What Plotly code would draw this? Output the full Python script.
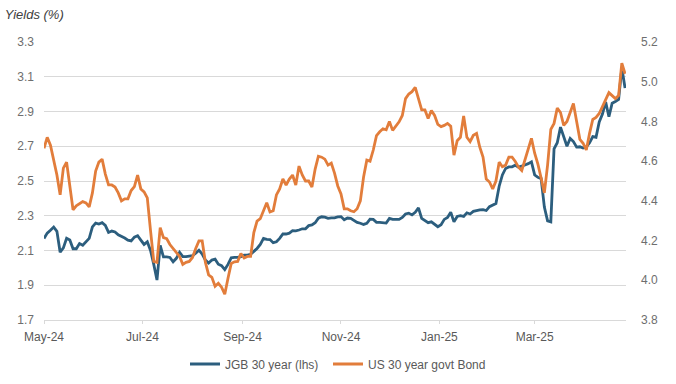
import pandas as pd
import plotly.graph_objects as go

# ---- data ----
start_date = "2024-05-01"
n_points = 181  # one observation every 2 days

jgb_30y = [
    2.169, 2.20, 2.217, 2.235, 2.21, 2.09, 2.115, 2.17, 2.16, 2.11,
    2.11, 2.14, 2.13, 2.152, 2.17, 2.236, 2.258, 2.252, 2.26, 2.245,
    2.204, 2.212, 2.207, 2.19, 2.183, 2.172, 2.16, 2.155, 2.177, 2.185,
    2.16, 2.135, 2.15, 2.10, 2.02, 1.93, 2.13, 2.063, 2.063, 2.06,
    2.035, 2.055, 2.09, 2.065, 2.065, 2.067, 2.07, 2.085, 2.102, 2.08,
    2.045, 2.028, 2.045, 2.05, 2.021, 2.013, 1.99, 2.02, 2.058, 2.06,
    2.06, 2.065, 2.073, 2.073, 2.078, 2.095, 2.112, 2.135, 2.17, 2.164,
    2.163, 2.145, 2.15, 2.17, 2.196, 2.195, 2.20, 2.214, 2.213, 2.218,
    2.225, 2.225, 2.243, 2.247, 2.26, 2.286, 2.294, 2.292, 2.285, 2.288,
    2.288, 2.293, 2.295, 2.277, 2.287, 2.285, 2.272, 2.262, 2.257, 2.25,
    2.256, 2.28, 2.279, 2.262, 2.262, 2.259, 2.258, 2.285, 2.279, 2.279,
    2.279, 2.29, 2.31, 2.315, 2.305, 2.32, 2.345, 2.285, 2.272, 2.26,
    2.265, 2.25, 2.237, 2.248, 2.279, 2.29, 2.32, 2.265, 2.296, 2.30,
    2.296, 2.317, 2.31, 2.325, 2.33, 2.334, 2.335, 2.33, 2.352, 2.36,
    2.37, 2.47, 2.535, 2.572, 2.581, 2.582, 2.591, 2.58, 2.585, 2.592,
    2.60, 2.61, 2.535, 2.521, 2.514, 2.35, 2.271, 2.265, 2.685, 2.72,
    2.81, 2.76, 2.70, 2.745, 2.727, 2.695, 2.697, 2.69, 2.695, 2.72,
    2.756, 2.752, 2.84, 2.885, 2.955, 2.87, 2.948, 2.958, 2.97, 3.15,
    3.035,
]

us_30y = [
    4.665, 4.72, 4.68, 4.60, 4.53, 4.43, 4.565, 4.595, 4.48, 4.355,
    4.375, 4.385, 4.396, 4.39, 4.37, 4.44, 4.55, 4.595, 4.61, 4.535,
    4.48, 4.48, 4.47, 4.44, 4.40, 4.41, 4.41, 4.452, 4.472, 4.53,
    4.46, 4.445, 4.415, 4.25, 4.095, 4.09, 4.265, 4.215, 4.21, 4.18,
    4.16, 4.14, 4.12, 4.08, 4.09, 4.095, 4.115, 4.16, 4.198, 4.198,
    4.09, 4.027, 4.015, 3.97, 3.985, 3.965, 3.93, 4.01, 4.085, 4.093,
    4.095, 4.135, 4.112, 4.12, 4.12, 4.24, 4.298, 4.31, 4.355, 4.39,
    4.344, 4.35, 4.43, 4.46, 4.51, 4.48, 4.51, 4.53, 4.48, 4.575,
    4.53, 4.50, 4.50, 4.47, 4.56, 4.625, 4.62, 4.61, 4.58, 4.59,
    4.54, 4.475, 4.435, 4.36, 4.36, 4.35, 4.345, 4.36, 4.40, 4.52,
    4.605, 4.60, 4.656, 4.728, 4.748, 4.763, 4.758, 4.80, 4.755, 4.774,
    4.798, 4.83, 4.915, 4.938, 4.95, 4.972, 4.92, 4.858, 4.858, 4.815,
    4.855, 4.83, 4.785, 4.774, 4.78, 4.79, 4.776, 4.63, 4.703, 4.72,
    4.828, 4.72, 4.698, 4.73, 4.74, 4.67, 4.62, 4.51, 4.495, 4.46,
    4.50, 4.595, 4.572, 4.58, 4.62, 4.62, 4.598, 4.57, 4.553, 4.61,
    4.663, 4.715, 4.64, 4.585, 4.515, 4.44, 4.58, 4.76, 4.79, 4.867,
    4.845, 4.78, 4.80, 4.84, 4.89, 4.80, 4.71, 4.69, 4.656, 4.74,
    4.81, 4.82, 4.84, 4.875, 4.912, 4.945, 4.93, 4.915, 4.93, 5.094,
    5.04,
]

left_ticks = [1.7, 1.9, 2.1, 2.3, 2.5, 2.7, 2.9, 3.1, 3.3]
right_ticks = [3.8, 4.0, 4.2, 4.4, 4.6, 4.8, 5.0, 5.2]
series_names = ["JGB 30 year (lhs)", "US 30 year govt Bond"]
axis_title = "Yields (%)"

dates = pd.date_range(start_date, periods=n_points, freq="2D")

BLUE = "#2C5E7E"
ORANGE = "#E27D3B"
GRID = "#D9D9D9"
SANS = "Liberation Sans, Arial, sans-serif"
LEG_FONT = dict(family=SANS, size=12, color="#595959")

fig = go.Figure()
fig.add_trace(go.Scatter(x=dates, y=jgb_30y, name=series_names[0], mode="lines",
                         line=dict(color=BLUE, width=2.8), yaxis="y", legend="legend"))
fig.add_trace(go.Scatter(x=dates, y=us_30y, name=series_names[1], mode="lines",
                         line=dict(color=ORANGE, width=2.8), yaxis="y2", legend="legend2"))

fig.update_layout(
    width=676, height=384,
    margin=dict(l=44, r=50, t=42, b=64, autoexpand=False),
    paper_bgcolor="white", plot_bgcolor="white",
    title=dict(text="<i>" + axis_title + "</i>", xref="container", yref="container",
               x=0.007, xanchor="left", y=1 - 14 / 384, yanchor="middle",
               font=dict(family=SANS, size=13, color="#404040")),
    xaxis=dict(
        type="date", range=["2024-05-01", "2025-04-26 14:00"],
        showgrid=False, zeroline=False, automargin=False,
        showline=True, linecolor=GRID, linewidth=1,
        ticks="outside", ticklen=3, tickcolor=GRID,
        ticklabelstandoff=3,
        dtick="M2", tick0="2024-05-01", tickformat="%b-%y",
        tickfont=dict(family=SANS, size=12, color="#595959"),
    ),
    yaxis=dict(
        range=[1.7, 3.3], tickvals=left_ticks, tickformat=".1f", automargin=False,
        showgrid=True, gridcolor=GRID, gridwidth=1, zeroline=False, showline=False,
        ticklabelstandoff=9,
        tickfont=dict(family=SANS, size=12, color="#6E6E6E"),
    ),
    yaxis2=dict(
        range=[3.8, 5.2], tickvals=right_ticks, tickformat=".1f", automargin=False,
        overlaying="y", side="right", showgrid=False, zeroline=False, showline=False,
        ticklabelstandoff=14,
        tickfont=dict(family=SANS, size=12, color="#6E6E6E"),
    ),
    legend=dict(orientation="h", x=(185 - 44) / 582, xanchor="left", xref="paper",
                y=20 / 384, yanchor="middle", yref="container",
                font=LEG_FONT, bgcolor="rgba(0,0,0,0)"),
    legend2=dict(orientation="h", x=(328 - 44) / 582, xanchor="left", xref="paper",
                 y=20 / 384, yanchor="middle", yref="container",
                 font=LEG_FONT, bgcolor="rgba(0,0,0,0)"),
    showlegend=True,
)

fig.write_html("out.html", config={"displayModeBar": False},
               post_script="document.body.style.margin='0';")
